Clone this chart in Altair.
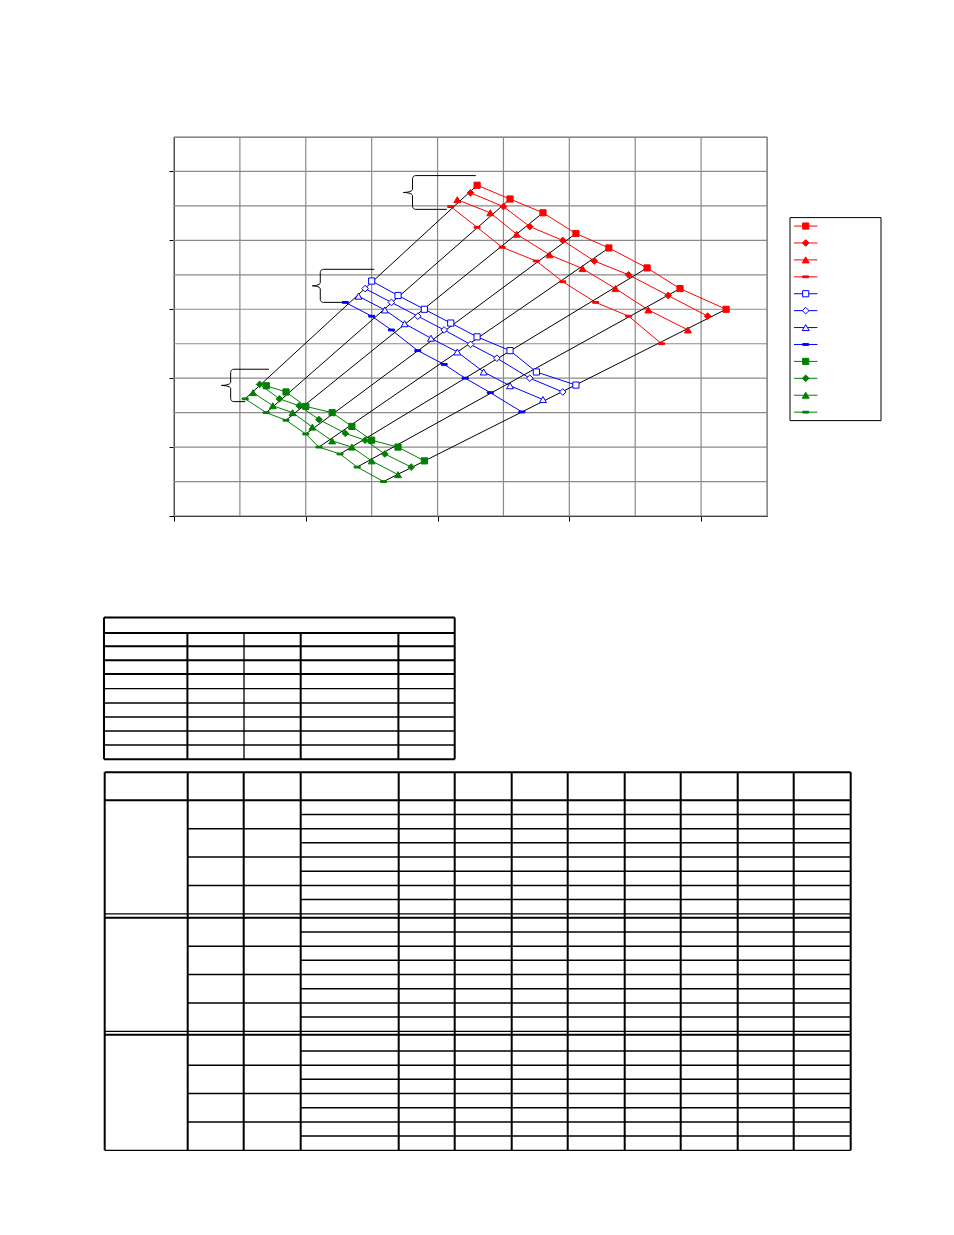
import math
import altair as alt
import pandas as pd

# ---------------- series ----------------
SERIES = ["red_square", "red_diamond", "red_triangle", "red_dash",
          "blue_square", "blue_diamond", "blue_triangle", "blue_dash",
          "green_square", "green_diamond", "green_triangle", "green_dash"]

RED_SQ_X = [2.30, 2.55, 2.80, 3.05, 3.30, 3.59, 3.84, 4.19]
RED_SQ_Y = [4.80, 4.60, 4.40, 4.10, 3.89, 3.60, 3.30, 3.00]
RED_DI_X = [2.25, 2.50, 2.70, 2.95, 3.19, 3.45, 3.75, 4.05]
RED_DI_Y = [4.69, 4.49, 4.20, 4.00, 3.70, 3.50, 3.20, 2.90]
RED_TR_X = [2.15, 2.40, 2.60, 2.85, 3.10, 3.35, 3.60, 3.90]
RED_TR_Y = [4.59, 4.40, 4.09, 3.79, 3.59, 3.30, 2.99, 2.70]
RED_DA_X = [2.10, 2.30, 2.49, 2.75, 2.95, 3.20, 3.45, 3.70]
RED_DA_Y = [4.49, 4.19, 3.90, 3.70, 3.40, 3.10, 2.90, 2.50]

BLU_SQ_X = [1.50, 1.70, 1.90, 2.10, 2.30, 2.55, 2.75, 3.05]
BLU_SQ_Y = [3.41, 3.20, 3.00, 2.80, 2.60, 2.40, 2.09, 1.90]
BLU_DI_X = [1.45, 1.65, 1.85, 2.05, 2.25, 2.45, 2.70, 2.95]
BLU_DI_Y = [3.30, 3.10, 2.90, 2.70, 2.49, 2.29, 2.00, 1.80]
BLU_TR_X = [1.40, 1.60, 1.75, 1.95, 2.15, 2.35, 2.55, 2.80]
BLU_TR_Y = [3.19, 2.99, 2.79, 2.58, 2.38, 2.09, 1.89, 1.69]
BLU_DA_X = [1.30, 1.50, 1.65, 1.85, 2.05, 2.21, 2.40, 2.64]
BLU_DA_Y = [3.10, 2.90, 2.70, 2.40, 2.20, 2.00, 1.79, 1.51]

GRN_SQ_X = [0.70, 0.85, 1.00, 1.20, 1.35, 1.50, 1.70, 1.90]
GRN_SQ_Y = [1.89, 1.80, 1.59, 1.50, 1.30, 1.10, 1.00, 0.80]
GRN_DI_X = [0.65, 0.80, 0.95, 1.10, 1.30, 1.45, 1.60, 1.80]
GRN_DI_Y = [1.91, 1.70, 1.60, 1.40, 1.20, 1.10, 0.90, 0.71]
GRN_TR_X = [0.60, 0.75, 0.90, 1.05, 1.20, 1.35, 1.50, 1.70]
GRN_TR_Y = [1.79, 1.60, 1.50, 1.29, 1.09, 1.00, 0.80, 0.60]
GRN_DA_X = [0.54, 0.70, 0.85, 1.00, 1.10, 1.26, 1.39, 1.59]
GRN_DA_Y = [1.70, 1.50, 1.39, 1.19, 1.00, 0.90, 0.71, 0.50]

X_TICKS = [0, 1, 2, 3, 4]
Y_TICKS = [0, 1, 2, 3, 4, 5]
X_GRID = [0, 0.5, 1, 1.5, 2, 2.5, 3, 3.5, 4, 4.5]
Y_GRID = [0, 0.5, 1, 1.5, 2, 2.5, 3, 3.5, 4, 4.5, 5, 5.5]

# brace annotations (red, blue, green groups)
BRACE_SPINE_X = [1.81, 1.11, 0.43]
BRACE_CUSP_X = [1.74, 1.05, 0.36]
BRACE_TOP_Y = [4.94, 3.58, 2.13]
BRACE_BOT_Y = [4.45, 3.10, 1.66]
BRACE_TOP_END_X = [2.29, 1.52, 0.72]
BRACE_BOT_END_X = [2.07, 1.28, 0.54]

# empty tables under the chart (page geometry)
T1_COLS = [103.3, 186.7, 243.3, 300.0, 397.7, 454.0]
T1_TOP = 617.3
T1_ROWS = [632.7, 646.0, 660.0, 673.7, 688.3, 702.7, 716.7, 730.7, 744.7, 759.0]
T1_THICK_ROWS = [617.3, 632.7, 646.0, 660.0, 673.7, 759.0]
T1_THIN_COLS = [243.3]

T2_COLS = [104, 187, 243, 300, 398, 454, 511, 567, 624, 680, 737, 793, 850]
T2_TOP = 772
T2_HEAD = 800
T2_GROUP_TOP = [800, 917.5, 1036.5]
T2_GROUP_BOT = [913.5, 1031, 1150]
T2_SEPARATORS = [917.5, 1034.5]
T2_ROWS_PER_GROUP = 8

LEG_BOX = [789.3, 880.3, 217.3, 420.3]
LEG_LINE_X = [793.3, 816.7]
LEG_MARK_X = 805.0

# ---------------- styles ----------------
RED, BLUE, GREEN = "#FF0000", "#0000FF", "#008000"
DASH = "M-1,-0.3L1,-0.3L1,0.3L-1,0.3Z"
STROKES = [RED] * 4 + [BLUE] * 4 + [GREEN] * 4
FILLS = [RED] * 4 + ["#FFFFFF"] * 3 + [BLUE] + [GREEN] * 4
SHAPES = ["square", "diamond", "triangle-up", DASH] * 3
SIZE_OF = {"square": 38, "diamond": 44, "triangle-up": 48, DASH: 36}

XS = [RED_SQ_X, RED_DI_X, RED_TR_X, RED_DA_X, BLU_SQ_X, BLU_DI_X, BLU_TR_X, BLU_DA_X,
      GRN_SQ_X, GRN_DI_X, GRN_TR_X, GRN_DA_X]
YS = [RED_SQ_Y, RED_DI_Y, RED_TR_Y, RED_DA_Y, BLU_SQ_Y, BLU_DI_Y, BLU_TR_Y, BLU_DA_Y,
      GRN_SQ_Y, GRN_DI_Y, GRN_TR_Y, GRN_DA_Y]

rows = []
for k, (s, xs, ys) in enumerate(zip(SERIES, XS, YS)):
    for i, (x, y) in enumerate(zip(xs, ys)):
        rows.append({"series": s, "i": i, "x": x, "y": y, "sz": SIZE_OF[SHAPES[k]]})
pts = pd.DataFrame(rows)

blk = []
for i in range(len(GRN_DA_X)):
    blk.append({"line": i, "o": 0, "x": GRN_DA_X[i], "y": GRN_DA_Y[i]})
    blk.append({"line": i, "o": 1, "x": RED_SQ_X[i], "y": RED_SQ_Y[i]})
blk = pd.DataFrame(blk)


def brace_points(b, sx, cx, ty, by, tex, bex, rx=0.024, ry=0.045, n=6):
    mid = (ty + by) / 2.0
    p = [(tex, ty)]
    for j in range(n + 1):
        a = math.radians(90 + 90 * j / n)
        p.append((sx + rx + rx * math.cos(a), ty - ry + ry * math.sin(a)))
    dx = sx - cx
    for j in range(n + 1):
        a = math.radians(-90 * j / n)
        p.append((cx + dx * math.cos(a), mid + ry + ry * math.sin(a)))
    for j in range(n + 1):
        a = math.radians(90 - 90 * j / n)
        p.append((cx + dx * math.cos(a), mid - ry + ry * math.sin(a)))
    for j in range(n + 1):
        a = math.radians(180 + 90 * j / n)
        p.append((sx + rx + rx * math.cos(a), by + ry + ry * math.sin(a)))
    p.append((bex, by))
    return [{"b": b, "o": o, "x": x, "y": y} for o, (x, y) in enumerate(p)]


br = []
for b in range(3):
    br += brace_points(b, BRACE_SPINE_X[b], BRACE_CUSP_X[b], BRACE_TOP_Y[b], BRACE_BOT_Y[b],
                       BRACE_TOP_END_X[b], BRACE_BOT_END_X[b])
br = pd.DataFrame(br)

# table lines
tl = []
tl.append({"x": T1_COLS[0], "x2": T1_COLS[-1], "y": T1_TOP, "y2": T1_TOP, "w": 2.0})
for yy in T1_ROWS:
    tl.append({"x": T1_COLS[0], "x2": T1_COLS[-1], "y": yy, "y2": yy,
               "w": 2.0 if yy in T1_THICK_ROWS else 1.3})
for xx in T1_COLS:
    top = T1_TOP if xx in (T1_COLS[0], T1_COLS[-1]) else T1_ROWS[0]
    tl.append({"x": xx, "x2": xx, "y": top, "y2": T1_ROWS[-1],
               "w": 1.3 if xx in T1_THIN_COLS else 2.0})
for yy in [T2_TOP, T2_HEAD] + T2_SEPARATORS:
    tl.append({"x": T2_COLS[0], "x2": T2_COLS[-1], "y": yy, "y2": yy, "w": 2.0})
for gt, gb in zip(T2_GROUP_TOP, T2_GROUP_BOT):
    h = (gb - gt) / T2_ROWS_PER_GROUP
    for k in range(1, T2_ROWS_PER_GROUP + 1):
        yy = gt + k * h
        if k == T2_ROWS_PER_GROUP:
            x0, w = T2_COLS[0], 1.3
        elif k % 2 == 1:
            x0, w = T2_COLS[3], 1.5
        else:
            x0, w = T2_COLS[1], 1.5
        tl.append({"x": x0, "x2": T2_COLS[-1], "y": yy, "y2": yy, "w": w})
for xx in T2_COLS:
    tl.append({"x": xx, "x2": xx, "y": T2_TOP, "y2": T2_GROUP_BOT[-1], "w": 2.0})
tl = pd.DataFrame(tl)

row_h = (LEG_BOX[3] - LEG_BOX[2]) / len(SERIES)
leg = pd.DataFrame({
    "series": SERIES,
    "y": [LEG_BOX[2] + (i + 0.5) * row_h for i in range(len(SERIES))],
    "x1": LEG_LINE_X[0], "x2": LEG_LINE_X[1], "xm": LEG_MARK_X,
    "sz": [SIZE_OF[s] for s in SHAPES],
})
legbox = pd.DataFrame({"x": [LEG_BOX[0]], "x2": [LEG_BOX[1]], "y": [LEG_BOX[2]], "y2": [LEG_BOX[3]]})

# ---------------- chart ----------------
W, H = 593, 379
sx = alt.Scale(domain=[0, 4.5], nice=False, zero=False)
sy = alt.Scale(domain=[0, 5.5], nice=False, zero=False)
ax_x = alt.Axis(values=X_TICKS, labels=False, title=None, grid=False, domainColor="black",
                tickColor="black", tickSize=5, domainWidth=1, tickWidth=1)
ax_y = alt.Axis(values=Y_TICKS, labels=False, title=None, grid=False, domainColor="black",
                tickColor="black", tickSize=5, domainWidth=1, tickWidth=1)
stroke_s = alt.Scale(domain=SERIES, range=STROKES)
fill_s = alt.Scale(domain=SERIES, range=FILLS)
shape_s = alt.Scale(domain=SERIES, range=SHAPES)

X = lambda f: alt.X(f, scale=sx, axis=ax_x, title=None)
Y = lambda f: alt.Y(f, scale=sy, axis=ax_y, title=None)

grid_v = alt.Chart(pd.DataFrame({"g": X_GRID})).mark_rule(color="#8a8a8a", strokeWidth=1.2).encode(x=X("g:Q"))
grid_h = alt.Chart(pd.DataFrame({"g": Y_GRID})).mark_rule(color="#8a8a8a", strokeWidth=1.2).encode(y=Y("g:Q"))

black = alt.Chart(blk).mark_line(color="black", strokeWidth=1).encode(
    x=X("x:Q"), y=Y("y:Q"), detail="line:N", order="o:Q")
clines = alt.Chart(pts).mark_line(strokeWidth=1).encode(
    x=X("x:Q"), y=Y("y:Q"), stroke=alt.Stroke("series:N", scale=stroke_s, legend=None), order="i:Q")
braces = alt.Chart(br).mark_line(color="black", strokeWidth=1).encode(
    x=X("x:Q"), y=Y("y:Q"), detail="b:N", order="o:Q")
points = alt.Chart(pts).mark_point(filled=True, opacity=1, strokeWidth=1).encode(
    x=X("x:Q"), y=Y("y:Q"),
    shape=alt.Shape("series:N", scale=shape_s, legend=None),
    fill=alt.Fill("series:N", scale=fill_s, legend=None),
    stroke=alt.Stroke("series:N", scale=stroke_s, legend=None),
    size=alt.Size("sz:Q", scale=None))

main = alt.layer(grid_v, grid_h, clines, black, braces, points)

# decorations in page coordinates
dx = alt.Scale(domain=[173.3, 766.3], nice=False, zero=False)
dy = alt.Scale(domain=[136.7, 515.7], nice=False, zero=False, reverse=True)
DX = lambda f: alt.X(f, scale=dx, axis=None, title=None)
DY = lambda f: alt.Y(f, scale=dy, axis=None, title=None)

tables = alt.Chart(tl).mark_rule(color="black", clip=False).encode(
    x=DX("x:Q"), x2="x2:Q", y=DY("y:Q"), y2="y2:Q",
    strokeWidth=alt.StrokeWidth("w:Q", scale=None))
lbox = alt.Chart(legbox).mark_rect(fill=None, stroke="black", strokeWidth=1, clip=False).encode(
    x=DX("x:Q"), x2="x2:Q", y=DY("y:Q"), y2="y2:Q")
llines = alt.Chart(leg).mark_rule(strokeWidth=1, clip=False).encode(
    x=DX("x1:Q"), x2="x2:Q", y=DY("y:Q"),
    stroke=alt.Stroke("series:N", scale=stroke_s, legend=None))
lpoints = alt.Chart(leg).mark_point(filled=True, opacity=1, strokeWidth=1, clip=False).encode(
    x=DX("xm:Q"), y=DY("y:Q"),
    shape=alt.Shape("series:N", scale=shape_s, legend=None),
    fill=alt.Fill("series:N", scale=fill_s, legend=None),
    stroke=alt.Stroke("series:N", scale=stroke_s, legend=None),
    size=alt.Size("sz:Q", scale=None))

deco = alt.layer(tables, lbox, llines, lpoints)

chart = alt.layer(main, deco).resolve_scale(x="independent", y="independent").properties(
    width=W, height=H,
    padding={"left": 94, "top": 128, "right": 5, "bottom": 5},
    background="white",
).configure_view(stroke="#8a8a8a", strokeWidth=1.2)

chart.save("out.html", embed_options={"renderer": "svg", "actions": False})
